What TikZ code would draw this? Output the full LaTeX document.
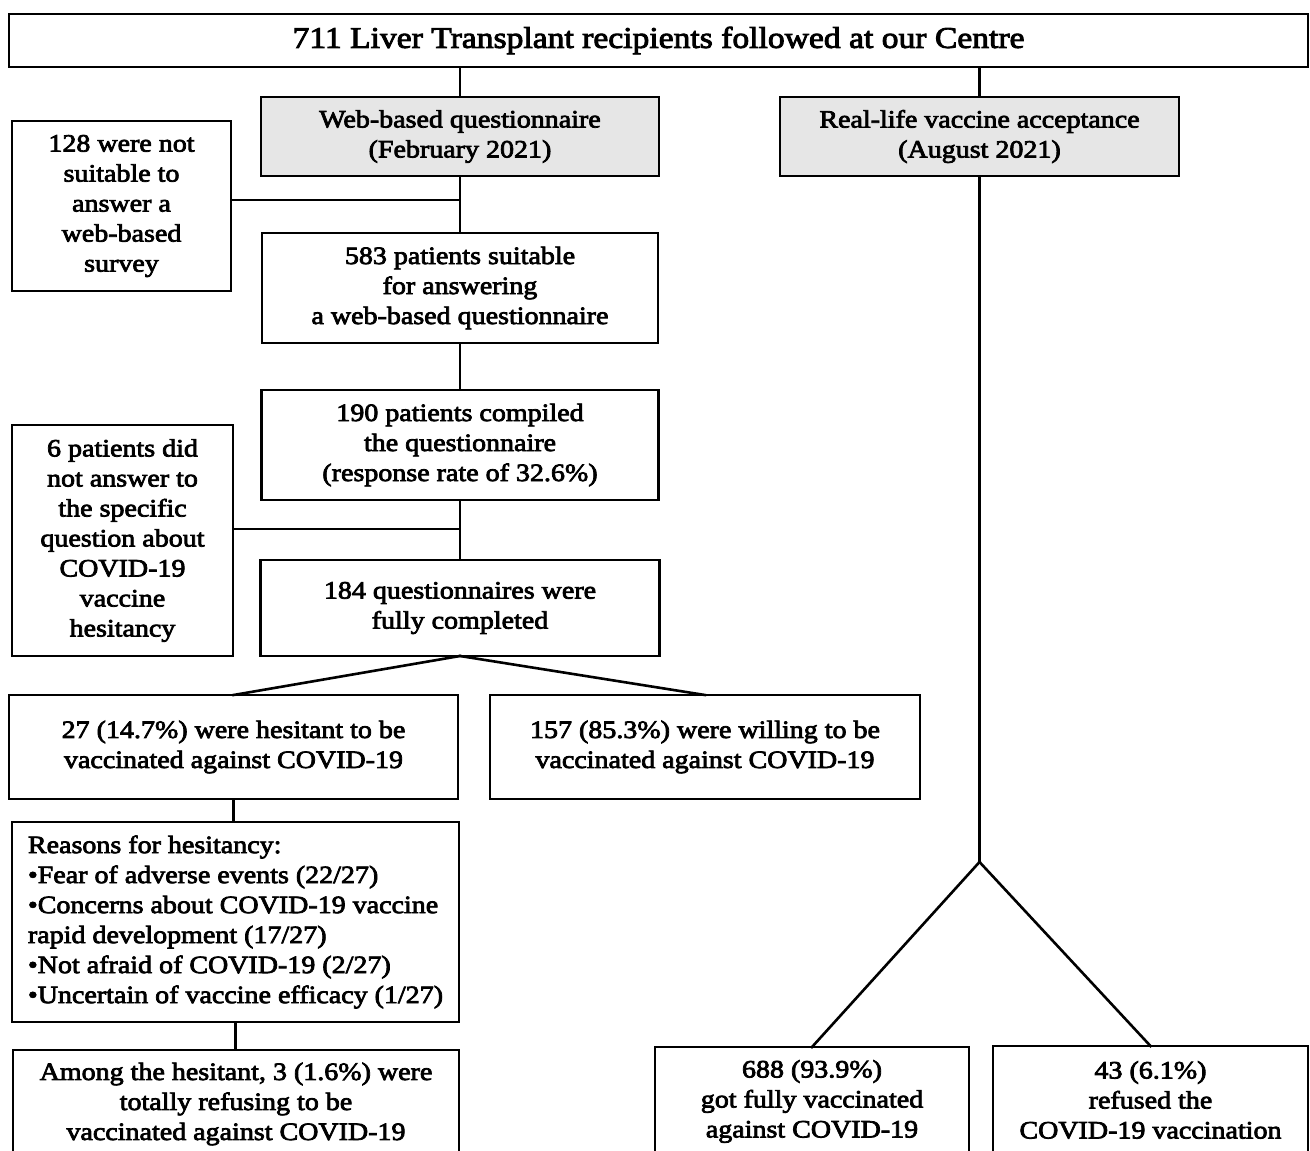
\documentclass[tikz,border=0pt]{standalone}
\usepackage{fontspec}
\setmainfont{Liberation Serif}[FakeStretch=1.12, FakeBold=3]
\definecolor{boxgray}{RGB}{230,230,230}
\tikzset{
  bx/.style={draw=black, line width=2.6pt, align=center, inner sep=0pt, outer sep=0pt,
    font=\fontsize{25}{30}\selectfont},
  gbx/.style={bx, fill=boxgray},
  ln/.style={line width=2.6pt, line cap=rect}
}
\begin{document}
\begin{tikzpicture}[x=1pt,y=-1pt]
\useasboundingbox (0,0) rectangle (1310,1151);
\clip (0,0) rectangle (1310,1151);
\fill[white] (0,0) rectangle (1310,1151);
% nodes (center, width, height)
\node[bx, minimum width=1299, minimum height=53, font=\fontsize{30}{34}\selectfont] (top) at (658.5,40.5) {711 Liver Transplant recipients followed at our Centre};
\node[gbx, minimum width=398, minimum height=79] (web) at (460,136.5) {Web-based questionnaire\\(February 2021)};
\node[gbx, minimum width=399, minimum height=79] (real) at (979.5,136.5) {Real-life vaccine acceptance\\(August 2021)};
\node[bx, minimum width=219, minimum height=170] (n128) at (121.5,206) {128 were not\\suitable to\\answer a\\web-based\\survey};
\node[bx, minimum width=396, minimum height=110] (n583) at (460,288) {583 patients suitable\\for  answering\\a web-based questionnaire};
\node[bx, minimum width=397, minimum height=110] (n190) at (460,445) {190 patients compiled\\the questionnaire\\(response rate of 32.6\%)};
\node[bx, minimum width=221, minimum height=231] (n6) at (122.5,540.5) {6 patients did\\not answer to\\the specific\\question about\\COVID-19\\vaccine\\hesitancy};
\node[bx, minimum width=399, minimum height=96] (n184) at (460,608) {184 questionnaires were\\fully completed};
\node[bx, minimum width=449, minimum height=104] (n27) at (233.5,747) {27 (14.7\%) were hesitant to be\\vaccinated against COVID-19};
\node[bx, minimum width=430, minimum height=104] (n157) at (705,747) {157 (85.3\%) were willing to be\\vaccinated against COVID-19};
\node[bx, minimum width=447, minimum height=200, align=left] (reas) at (235.5,922) {Reasons for hesitancy:\\•Fear of adverse events (22/27)\\•Concerns about COVID-19 vaccine\\rapid development (17/27)\\•Not afraid of COVID-19 (2/27)\\•Uncertain of vaccine efficacy (1/27)};
\node[bx, minimum width=446, minimum height=108] (among) at (236,1104) {Among the hesitant, 3 (1.6\%) were\\totally refusing to be\\vaccinated against COVID-19};
\node[bx, minimum width=314, minimum height=109] (n688) at (812,1101.5) {688 (93.9\%)\\got fully vaccinated\\against COVID-19};
\node[bx, minimum width=315, minimum height=108] (n43) at (1150.5,1100) {43 (6.1\%)\\refused the\\COVID-19 vaccination};
% junction points
\coordinate (j1) at (460,200);
\coordinate (j2) at (460,529);
\coordinate (j3) at (979.5,862);
% connectors
\draw[ln] (web.north) -- (web.north |- top.south);
\draw[ln] (real.north) -- (real.north |- top.south);
\draw[ln] (web.south) -- (n583.north);
\draw[ln] (j1) -- (j1 -| n128.east);
\draw[ln] (n583.south) -- (n190.north);
\draw[ln] (n190.south) -- (n184.north);
\draw[ln] (j2) -- (j2 -| n6.east);
\draw[ln] (n184.south) -- (n27.north);
\draw[ln] (n184.south) -- (n157.north);
\draw[ln] (n27.south) -- (n27.south |- reas.north);
\draw[ln] (reas.south) -- (reas.south |- among.north);
\draw[ln] (real.south) -- (j3);
\draw[ln] (j3) -- (n688.north);
\draw[ln] (j3) -- (n43.north);
\end{tikzpicture}
\end{document}
